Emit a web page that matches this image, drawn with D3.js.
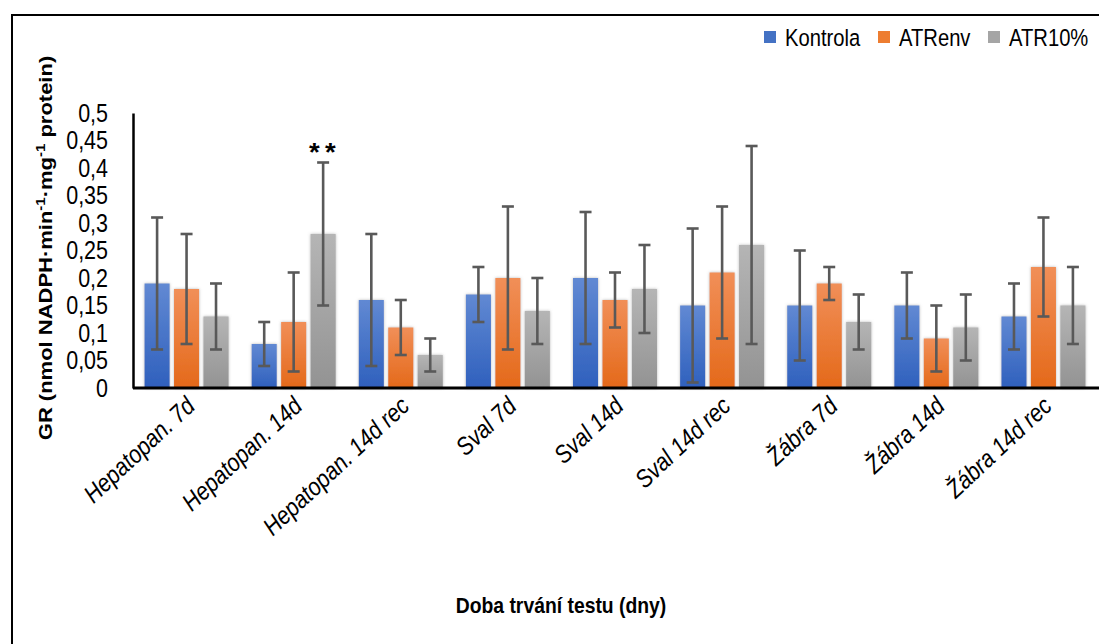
<!DOCTYPE html>
<html><head>
<meta charset="utf-8">
<script src="https://d3js.org/d3.v7.min.js"></script>
<style>
  body { margin: 0; background: #fff; }
  text { font-family: "Liberation Sans", Arial, sans-serif; fill: #000; }
</style>
</head>
<body>
<svg id="chart" width="1099" height="644"></svg>
<script>
// data
const categories = ["Hepatopan. 7d", "Hepatopan. 14d", "Hepatopan. 14d rec", "Sval 7d", "Sval 14d",
                    "Sval 14d rec", "Žábra 7d", "Žábra 14d", "Žábra 14d rec"];
const seriesNames = ["Kontrola", "ATRenv", "ATR10%"];
const kontrola = [0.19, 0.08, 0.16, 0.17, 0.20, 0.15, 0.15, 0.15, 0.13];
const atrEnv   = [0.18, 0.12, 0.11, 0.20, 0.16, 0.21, 0.19, 0.09, 0.22];
const atr10    = [0.13, 0.28, 0.06, 0.14, 0.18, 0.26, 0.12, 0.11, 0.15];
const errKontrola = [0.12, 0.04, 0.12, 0.05, 0.12, 0.14, 0.10, 0.06, 0.06];
const errAtrEnv   = [0.10, 0.09, 0.05, 0.13, 0.05, 0.12, 0.03, 0.06, 0.09];
const errAtr10    = [0.06, 0.13, 0.03, 0.06, 0.08, 0.18, 0.05, 0.06, 0.07];
const yTicks = [0, 0.05, 0.1, 0.15, 0.2, 0.25, 0.3, 0.35, 0.4, 0.45, 0.5];
const marks = [{cat: "Hepatopan. 14d", series: "ATR10%", label: "**"}];

const values = [kontrola, atrEnv, atr10];
const errors = [errKontrola, errAtrEnv, errAtr10];
const colors = {
  "Kontrola": ["#6189d3", "#2f60bd"],
  "ATRenv":   ["#f18f58", "#e4691a"],
  "ATR10%":   ["#b5b5b5", "#939393"]
};
const legendColor = {"Kontrola": "#4472c4", "ATRenv": "#ed7d31", "ATR10%": "#a5a5a5"};

const sx = 0.86; // text in the picture is narrow
const svg = d3.select("#chart");
const plotLeft = 133, plotRight = 1097, plotTop = 113, plotBottom = 388;

// outer frame (open to the right and bottom)
svg.append("path")
   .attr("d", `M12,660 L12,15 L1110,15`)
   .attr("fill", "none").attr("stroke", "#000").attr("stroke-width", 2);

const y = d3.scaleLinear().domain([0, 0.5]).range([plotBottom, plotTop]);
const x0 = d3.scaleBand().domain(categories).range([plotLeft, plotRight]).paddingInner(0.216).paddingOuter(0.108);
const x1 = d3.scaleBand().domain(seriesNames).range([0, x0.bandwidth()]).paddingInner(0.15).paddingOuter(0);

const defs = svg.append("defs");
seriesNames.forEach((s, i) => {
  const g = defs.append("linearGradient").attr("id", "grad" + i)
     .attr("x1", 0).attr("y1", 0).attr("x2", 0).attr("y2", 1);
  g.append("stop").attr("offset", "0%").attr("stop-color", colors[s][0]);
  g.append("stop").attr("offset", "100%").attr("stop-color", colors[s][1]);
});
const f = defs.append("filter").attr("id", "shadow")
   .attr("x", "-30%").attr("y", "-10%").attr("width", "160%").attr("height", "120%");
f.append("feDropShadow").attr("dx", 0).attr("dy", 0).attr("stdDeviation", 1.6)
   .attr("flood-color", "#888").attr("flood-opacity", 0.6);

// rows of bars
const rows = [];
categories.forEach((c, ci) => {
  seriesNames.forEach((s, si) => {
    rows.push({cat: c, series: s, si: si, v: values[si][ci], e: errors[si][ci]});
  });
});

svg.append("g").selectAll("rect").data(rows).join("rect")
   .attr("x", d => x0(d.cat) + x1(d.series))
   .attr("y", d => y(d.v))
   .attr("width", x1.bandwidth())
   .attr("height", d => y(0) - y(d.v))
   .attr("fill", d => `url(#grad${d.si})`)
   .attr("filter", "url(#shadow)");

// error bars
const eb = svg.append("g").attr("stroke", "#595959").attr("stroke-width", 2.6);
const cx = d => x0(d.cat) + x1(d.series) + x1.bandwidth() / 2;
eb.selectAll("line.v").data(rows).join("line").attr("class", "v")
   .attr("x1", cx).attr("x2", cx)
   .attr("y1", d => y(d.v + d.e)).attr("y2", d => y(Math.max(0, d.v - d.e)));
eb.selectAll("line.t").data(rows).join("line").attr("class", "t")
   .attr("x1", d => cx(d) - 6).attr("x2", d => cx(d) + 6)
   .attr("y1", d => y(d.v + d.e)).attr("y2", d => y(d.v + d.e));
eb.selectAll("line.b").data(rows).join("line").attr("class", "b")
   .attr("x1", d => cx(d) - 6).attr("x2", d => cx(d) + 6)
   .attr("y1", d => y(Math.max(0, d.v - d.e))).attr("y2", d => y(Math.max(0, d.v - d.e)));

// significance marks
marks.forEach(m => {
  const r = rows.find(d => d.cat === m.cat && d.series === m.series);
  svg.append("text")
     .attr("transform", `translate(${cx(r) + 2},${y(r.v + r.e) - 2}) scale(1.1,1)`)
     .attr("text-anchor", "middle")
     .style("font-size", "25px").style("font-weight", "bold").style("letter-spacing", "5px")
     .text(m.label);
});

// y axis
const yAxis = svg.append("g").attr("transform", `translate(${plotLeft},0)`)
   .call(d3.axisLeft(y).tickValues(yTicks).tickSize(0).tickPadding(25)
          .tickFormat(d => String(+d.toFixed(2)).replace(".", ",")));
yAxis.select(".domain").attr("stroke", "#000").attr("stroke-width", 2.5);
yAxis.selectAll("text")
   .style("font-size", "25px").attr("font-family", null)
   .attr("transform", `scale(${sx},1)`)
   .attr("x", -25 / sx);

// x axis
const xAxis = svg.append("g").attr("transform", `translate(0,${plotBottom})`)
   .call(d3.axisBottom(x0).tickSize(0).tickPadding(0));
xAxis.select(".domain").attr("d", `M${plotLeft},0H1099`).attr("stroke", "#000").attr("stroke-width", 3);
xAxis.selectAll(".tick text")
   .attr("y", null).attr("dy", null)
   .attr("text-anchor", "end")
   .style("font-size", "25px").style("font-style", "italic").attr("font-family", null)
   .attr("transform", `translate(10,20) rotate(-43) scale(${sx},1)`);

// axis titles
const ytitle = svg.append("text")
   .attr("transform", `translate(52,248) scale(${sx},1) rotate(-90)`)
   .attr("text-anchor", "middle")
   .style("font-size", "22px").style("font-weight", "bold");
ytitle.append("tspan").text("GR (nmol NADPH·min");
ytitle.append("tspan").attr("dy", -8).style("font-size", "15px").text("-1");
ytitle.append("tspan").attr("dy", 8).text("·mg");
ytitle.append("tspan").attr("dy", -8).style("font-size", "15px").text("-1");
ytitle.append("tspan").attr("dy", 8).text(" protein)");

svg.append("text")
   .attr("transform", `translate(561,613) scale(${sx},1)`)
   .attr("text-anchor", "middle")
   .style("font-size", "22.5px").style("font-weight", "bold")
   .text("Doba trvání testu (dny)");

// legend
const legendX = [764, 878, 988];
const lg = svg.append("g").selectAll("g").data(seriesNames).join("g")
   .attr("transform", (d, i) => `translate(${legendX[i]},31)`);
lg.append("rect").attr("width", 12).attr("height", 12)
   .attr("fill", d => legendColor[d]);
lg.append("text").attr("transform", `translate(21,14.5) scale(${sx},1)`)
   .style("font-size", "23.5px").text(d => d);
</script>
</body>
</html>
